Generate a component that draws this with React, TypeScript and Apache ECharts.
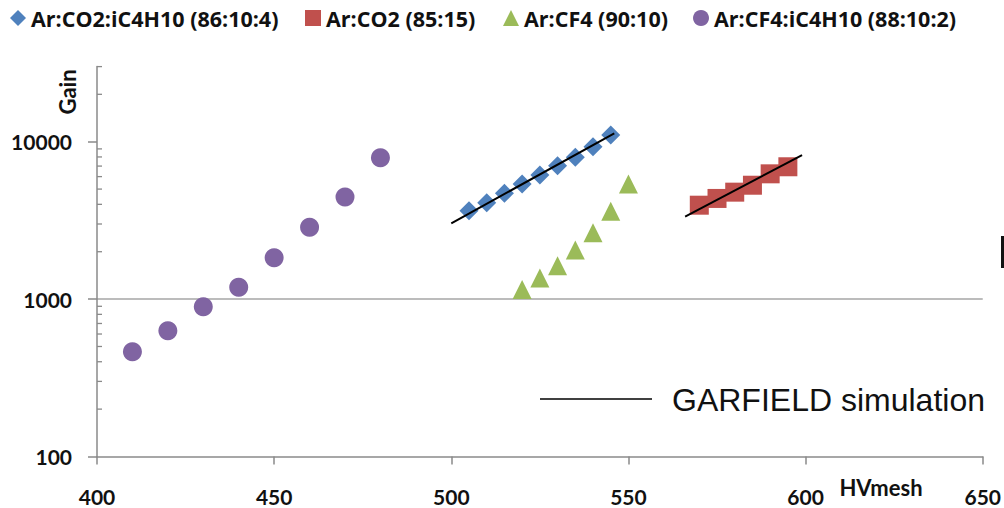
import React, { useEffect, useRef } from "react";
import * as echarts from "echarts";

const seriesNames = [
  "Ar:CO2:iC4H10 (86:10:4)",
  "Ar:CO2 (85:15)",
  "Ar:CF4 (90:10)",
  "Ar:CF4:iC4H10 (88:10:2)",
];
const seriesColors = ["#4F81BD", "#C0504D", "#9BBB59", "#8064A2"];
const seriesSymbols = ["diamond", "rect", "triangle", "circle"];

const hvCO2iC4H10 = [505, 510, 515, 520, 525, 530, 535, 540, 545];
const gainCO2iC4H10 = [3640, 4100, 4700, 5390, 6140, 7040, 7960, 9300, 11030];

const hvCO2 = [570, 575, 580, 585, 590, 595];
const gainCO2 = [3950, 4360, 4780, 5290, 6250, 6930];

const hvCF4 = [520, 525, 530, 535, 540, 545, 550];
const gainCF4 = [1150, 1360, 1630, 2050, 2640, 3610, 5390];

const hvCF4iC4H10 = [410, 420, 430, 440, 450, 460, 470, 480];
const gainCF4iC4H10 = [463, 630, 895, 1190, 1830, 2860, 4450, 7910];

const simCO2iC4H10HV = [500, 546];
const simCO2iC4H10Gain = [3030, 11300];
const simCO2HV = [566, 599];
const simCO2Gain = [3340, 8230];

const xMin = 400;
const xMax = 650;
const xInterval = 50;
const yMin = 100;
const yMax = 30000;
const yMajorTicks = [100, 1000, 10000];
const yMinorTicks = [
  200, 300, 400, 500, 600, 700, 800, 900,
  2000, 3000, 4000, 5000, 6000, 7000, 8000, 9000,
  20000, 30000,
];

const simLabel = "GARFIELD simulation";

const hvList = [hvCO2iC4H10, hvCO2, hvCF4, hvCF4iC4H10];
const gainList = [gainCO2iC4H10, gainCO2, gainCF4, gainCF4iC4H10];
const legendLefts = [10, 305, 503, 693];

const labelFont = "Lato, 'Open Sans', sans-serif";
const legendFont = "'Open Sans', Lato, sans-serif";
const axisGray = "#8a8a8a";

export default function App() {
  const ref = useRef<HTMLDivElement>(null);
  useEffect(() => {
    if (!ref.current) return;
    const chart = echarts.init(ref.current, null, { renderer: "svg" });

    const scatterSeries = seriesNames.map((name, i) => ({
      name,
      type: "scatter",
      symbol: seriesSymbols[i],
      symbolSize: 19,
      itemStyle: { color: seriesColors[i], opacity: 1 },
      data: hvList[i].map((x, k) => [x, gainList[i][k]]),
      z: 3,
    }));

    const option: any = {
      animation: false,
      backgroundColor: "#ffffff",
      grid: { left: 97, right: 21, top: 66.6, bottom: 51.5, containLabel: false },
      legend: seriesNames.map((name, i) => ({
        data: [name],
        left: legendLefts[i],
        top: 7,
        itemWidth: 16,
        itemHeight: 16,
        itemGap: 0,
        padding: 0,
        selectedMode: false,
        textStyle: {
          fontFamily: legendFont,
          fontWeight: "bold",
          fontSize: 21.5,
          color: "#111",
        },
      })),
      xAxis: {
        type: "value",
        min: xMin,
        max: xMax,
        interval: xInterval,
        axisLine: { show: true, lineStyle: { color: axisGray, width: 1.5 } },
        axisTick: { show: true, inside: false, length: 8, lineStyle: { color: axisGray, width: 1.5 } },
        splitLine: { show: false },
        axisLabel: {
          margin: 29,
          fontFamily: labelFont,
          fontWeight: "bold",
          fontSize: 21,
          color: "#111",
        },
      },
      yAxis: {
        type: "log",
        logBase: 10,
        min: yMin,
        max: yMax,
        axisLine: { show: true, lineStyle: { color: axisGray, width: 1.5 } },
        axisTick: {
          show: true,
          inside: false,
          length: 9,
          customValues: yMajorTicks,
          lineStyle: { color: axisGray, width: 1.5 },
        },
        minorTick: { show: false },
        splitLine: {
          show: true,
          showMinLine: false,
          showMaxLine: false,
          lineStyle: { color: "#a6a6a6", width: 1.5 },
        },
        axisLabel: {
          margin: 25,
          customValues: yMajorTicks,
          formatter: (v: number) => String(Math.round(v)),
          fontFamily: labelFont,
          fontWeight: "bold",
          fontSize: 21,
          color: "#111",
        },
      },
      series: [
        ...scatterSeries,
        {
          name: "simA",
          type: "line",
          symbol: "none",
          lineStyle: { color: "#000", width: 2 },
          data: simCO2iC4H10HV.map((x, k) => [x, simCO2iC4H10Gain[k]]),
          z: 4,
        },
        {
          name: "simB",
          type: "line",
          symbol: "none",
          lineStyle: { color: "#000", width: 2 },
          data: simCO2HV.map((x, k) => [x, simCO2Gain[k]]),
          z: 4,
        },
        {
          name: "minorTicks",
          type: "custom",
          silent: true,
          clip: false,
          encode: { x: 0, y: 1 },
          data: yMinorTicks.map((v) => [xMin, v]),
          renderItem: (_params: any, api: any) => {
            const p = api.coord([api.value(0), api.value(1)]);
            return {
              type: "line",
              shape: { x1: p[0], y1: p[1], x2: p[0] + 5, y2: p[1] },
              style: { stroke: axisGray, lineWidth: 1.3 },
            };
          },
          z: 2,
        },
      ],
      graphic: [
        {
          type: "text",
          x: 67,
          y: 92,
          rotation: Math.PI / 2,
          style: {
            text: "Gain",
            font: `bold 22px ${labelFont}`,
            fill: "#111",
            align: "center",
            verticalAlign: "middle",
          },
        },
        {
          type: "text",
          x: 881,
          y: 487,
          style: {
            text: "HVmesh",
            font: `bold 22px ${labelFont}`,
            fill: "#111",
            align: "center",
            verticalAlign: "middle",
          },
        },
        {
          type: "line",
          shape: { x1: 540, y1: 399, x2: 652, y2: 399 },
          style: { stroke: "#000", lineWidth: 1.5 },
        },
        {
          type: "text",
          x: 672,
          y: 400,
          style: {
            text: simLabel,
            font: "32px 'Liberation Sans', Arial, sans-serif",
            fill: "#111",
            align: "left",
            verticalAlign: "middle",
          },
        },
        {
          type: "rect",
          shape: { x: 1001, y: 236, width: 3, height: 32 },
          style: { fill: "#111" },
        },
      ],
    };

    chart.setOption(option);
    return () => chart.dispose();
  }, []);

  return (
    <div
      ref={ref}
      style={{ position: "absolute", left: 0, top: 0, width: 1004, height: 508 }}
    />
  );
}
